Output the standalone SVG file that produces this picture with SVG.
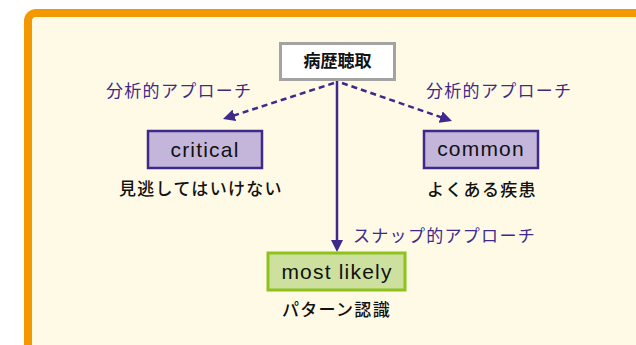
<svg xmlns="http://www.w3.org/2000/svg" width="636" height="345" viewBox="0 0 636 345">
<defs>
<style>
.jp{font-family:"Noto Sans CJK JP","Noto Sans CJK SC",sans-serif;font-size:17px;letter-spacing:1.3px}
.lbl{fill:#3d2a8c}
.blk{fill:#111;font-weight:500}
.en{font-family:"Liberation Sans",Arial,sans-serif;font-size:21px;letter-spacing:1.2px;fill:#111;text-anchor:middle}
.pbox{fill:#c4b6da;stroke:#3c2a88;stroke-width:2.5}
.conn{stroke:#3d2a8a;stroke-width:2.5;fill:none}
.dash{stroke-dasharray:6 4}
</style>
<marker id="ah" markerUnits="userSpaceOnUse" markerWidth="12" markerHeight="12" viewBox="0 0 12 12" refX="8" refY="6" orient="auto">
<path d="M0,0 L12,6 L0,12 z" fill="#3d2a8a"/>
</marker>
</defs>
<rect x="28" y="13" width="640" height="360" rx="8" fill="#fffae6" stroke="#f39800" stroke-width="8"/>
<g id="connectors">
<line class="conn dash" x1="334" y1="83" x2="226.8" y2="117.8" marker-end="url(#ah)"/>
<line class="conn dash" x1="342" y1="83" x2="448.2" y2="119.7" marker-end="url(#ah)"/>
<line class="conn" x1="337" y1="80" x2="337" y2="248" marker-end="url(#ah)"/>
<text class="jp lbl" x="106" y="97">分析的アプローチ</text>
<text class="jp lbl" x="426" y="97">分析的アプローチ</text>
<text class="jp lbl" x="353" y="242">スナップ的アプローチ</text>
</g>
<g id="history">
<rect x="280.5" y="43.5" width="114" height="36" fill="#fff" stroke="#a3a3a3" stroke-width="3"/>
<text x="337.5" y="67" font-family="'Noto Sans CJK JP',sans-serif" font-size="17" font-weight="bold" text-anchor="middle" fill="#111">病歴聴取</text>
</g>
<g id="critical">
<rect class="pbox" x="148" y="131" width="114" height="37"/>
<text class="en" x="205" y="157">critical</text>
<text class="jp blk" x="119" y="195">見逃してはいけない</text>
</g>
<g id="common">
<rect class="pbox" x="424" y="131" width="114" height="37"/>
<text class="en" x="481" y="156">common</text>
<text class="jp blk" x="427" y="196">よくある疾患</text>
</g>
<g id="mostlikely">
<rect x="268" y="253" width="137" height="37" fill="#cde09e" stroke="#8dc21f" stroke-width="3"/>
<text class="en" x="337" y="279">most likely</text>
<text class="jp blk" x="282" y="316">パターン認識</text>
</g>
</svg>
